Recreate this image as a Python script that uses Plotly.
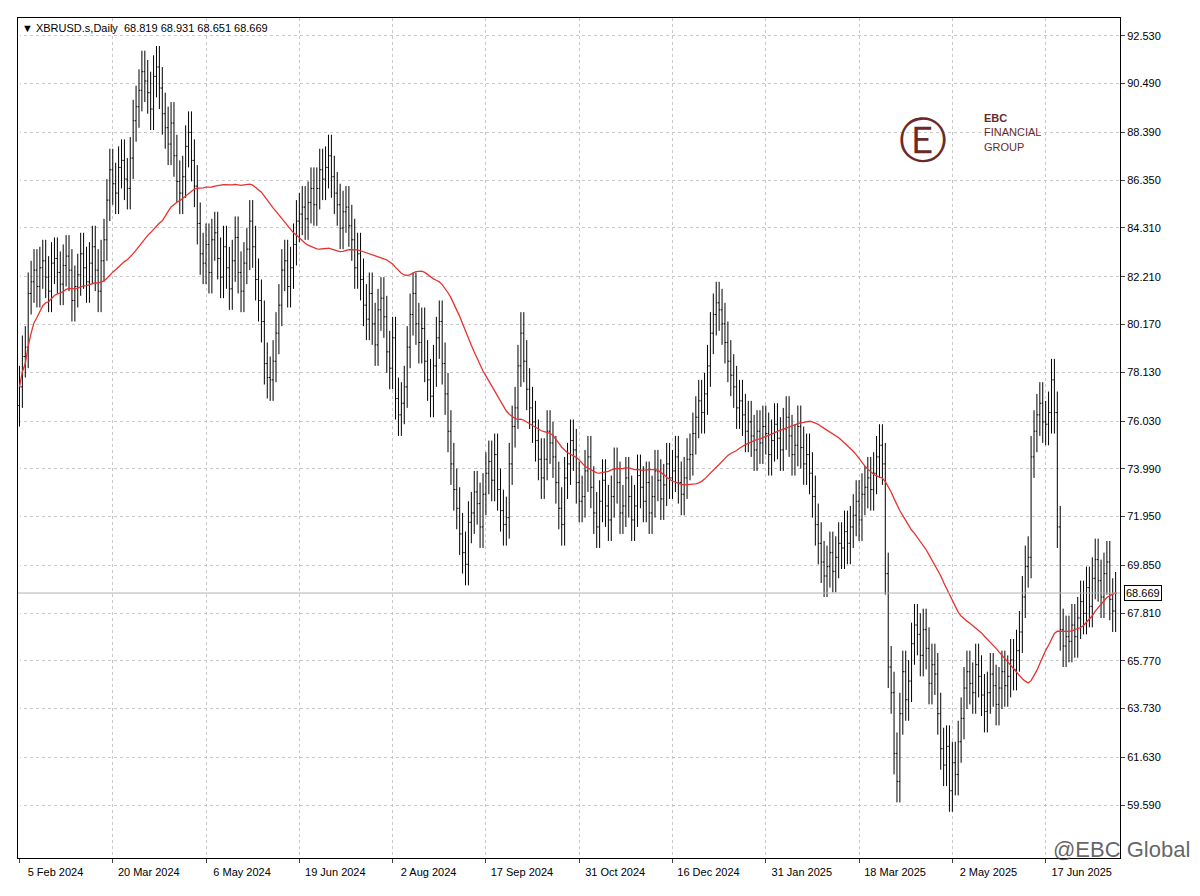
import plotly.graph_objects as go
import pandas as pd

closes = [
77.5,78.8,79.2,81.5,82.0,82.5,81.8,82.6,82.9,82.2,
81.6,82.8,83.0,82.4,81.9,82.7,83.1,82.5,81.2,81.8,
82.3,83.2,82.6,82.0,82.8,83.5,82.5,81.6,82.9,83.8,85.5,86.8,
86.2,85.8,86.9,87.2,86.4,86.0,87.3,88.9,89.5,90.2,91.0,90.6,90.1,89.4,90.8,91.2,
90.3,89.2,88.6,87.9,88.8,87.4,86.3,85.8,86.5,87.8,88.4,87.2,86.1,84.5,83.2,82.8,
83.6,82.4,83.8,84.1,83.0,82.2,83.5,82.6,81.7,82.9,83.9,82.4,81.6,82.8,83.4,84.6,
83.5,82.1,81.2,80.3,78.5,77.9,77.8,78.6,79.8,81.0,82.5,82.9,81.8,82.6,83.6,84.6,
84.9,85.2,84.7,85.4,86.0,85.3,86.0,86.8,86.4,86.9,87.4,86.5,85.8,85.3,84.3,85.0,
85.2,84.4,83.8,82.6,83.2,82.1,81.0,80.4,81.5,80.2,79.3,80.8,81.3,80.5,79.0,78.3,
79.6,77.0,76.3,76.8,77.5,79.2,80.6,81.5,80.2,79.4,80.0,78.6,77.8,77.1,78.4,79.6,
80.3,78.5,77.2,75.6,74.2,73.1,72.3,71.2,70.4,69.9,71.7,72.1,73.0,72.5,71.5,72.9,
73.8,74.3,73.5,74.6,73.1,72.2,71.6,71.9,74.2,75.8,76.6,78.4,79.8,78.6,77.4,76.6,
76.0,75.2,74.4,73.6,74.4,75.6,75.1,74.5,73.4,72.3,71.6,73.6,74.2,75.2,74.8,73.4,
72.6,72.8,73.9,74.5,73.2,72.1,71.5,72.6,73.5,72.4,71.8,72.8,74.0,73.4,72.1,72.4,
73.6,72.8,71.8,72.4,73.7,73.2,72.6,73.4,72.1,72.8,73.9,73.5,72.7,73.3,74.2,73.6,
73.9,74.5,73.4,72.9,73.6,74.4,74.6,75.5,76.2,76.9,76.4,77.2,78.4,79.8,80.6,81.1,
80.8,80.2,79.4,78.6,78.0,77.5,76.6,76.9,76.3,75.6,76.0,75.4,74.8,75.6,75.1,75.8,
75.5,74.6,75.2,75.9,75.3,74.8,75.7,76.2,75.4,74.6,75.0,75.8,74.9,74.2,74.6,73.8,
72.8,71.6,70.8,70.0,69.4,69.8,70.4,69.6,70.2,70.8,70.6,71.3,70.8,71.5,72.0,72.6,
71.8,72.9,73.2,73.6,73.1,73.8,74.5,75.0,74.2,69.5,65.5,64.4,61.8,60.6,63.5,65.3,
64.1,64.9,66.5,67.3,66.9,66.0,67.1,66.3,64.8,65.6,65.2,63.5,62.0,61.3,62.1,60.2,
61.4,60.9,62.3,63.3,64.6,65.3,64.8,64.4,65.6,65.1,64.3,63.6,64.4,65.2,64.7,63.9,
64.6,65.3,64.7,65.1,65.8,65.4,66.2,67.0,68.5,69.8,70.2,74.5,75.6,76.3,76.8,76.0,
75.9,76.4,77.8,76.4,71.5,67.1,66.4,66.8,66.6,67.3,66.8,67.6,68.3,67.8,68.9,68.1,
69.3,70.1,69.2,68.5,69.5,70.0,68.4,67.9,68.67,
]
tick_labels = ["5 Feb 2024","20 Mar 2024","6 May 2024","19 Jun 2024","2 Aug 2024",
               "17 Sep 2024","31 Oct 2024","16 Dec 2024","31 Jan 2025","18 Mar 2025",
               "2 May 2025","17 Jun 2025"]
y_ticks = [92.530,90.490,88.390,86.350,84.310,82.210,80.170,78.130,76.030,73.990,
           71.950,69.850,67.810,65.770,63.730,61.630,59.590]
last_price = 68.669

n = len(closes)
x = list(range(n))
opens = [closes[0]-0.8] + closes[:-1]
highs = [max(o, c)+0.9 for o, c in zip(opens, closes)]
lows = [min(o, c)-0.9 for o, c in zip(opens, closes)]
ma = pd.Series(closes).rolling(50, min_periods=1).mean()

fig = go.Figure()
fig.add_trace(go.Ohlc(x=x, open=opens, high=highs, low=lows, close=closes,
                      increasing_line_color="black", decreasing_line_color="black",
                      line_width=1, tickwidth=0.4, showlegend=False))
fig.add_trace(go.Scatter(x=x, y=ma, mode="lines", line=dict(color="#e8322f", width=1.3),
                         showlegend=False))
fig.add_hline(y=last_price, line_color="#b0b0b0", line_width=1)
fig.add_annotation(x=1, xref="paper", y=last_price, yref="y", text=f"{last_price:.3f}",
                   showarrow=False, xanchor="left", xshift=4, bgcolor="white",
                   bordercolor="black", borderwidth=1, font=dict(size=11, color="black", family="Arial"))
fig.add_annotation(x=0, xref="paper", y=1, yref="paper", xanchor="left", yanchor="top",
                   text="▼ XBRUSD.s,Daily  68.819 68.931 68.651 68.669", showarrow=False,
                   xshift=2, yshift=-2, font=dict(size=11, color="black", family="Arial"))
fig.add_annotation(x=0.875, xref="paper", y=0.89, yref="paper", text="<b>EBC</b><br>FINANCIAL<br>GROUP",
                   showarrow=False, xanchor="left", align="left",
                   font=dict(size=11, color="#6b2a2a", family="Arial"))
fig.add_annotation(x=0.845, xref="paper", y=0.89, yref="paper", text="Ⓔ", showarrow=False,
                   font=dict(size=48, color="#6b2a2a", family="DejaVu Sans"))
fig.add_annotation(x=1, xref="paper", y=0, yref="paper", text="@EBC Global",
                   showarrow=False, xanchor="right", yanchor="bottom", xshift=72, yshift=-6,
                   font=dict(size=22, color="rgba(60,60,60,0.8)", family="Arial"))
fig.update_layout(
    width=1200, height=896, margin=dict(l=10, r=88, t=10, b=46),
    paper_bgcolor="white", plot_bgcolor="white",
    xaxis=dict(range=[-0.5, n+0.5], tickvals=[i*32 for i in range(len(tick_labels))],
               ticktext=tick_labels, showgrid=True, gridcolor="#c8c8c8", griddash="3px,3px",
               rangeslider=dict(visible=False), showline=True, linecolor="black", mirror=True,
               ticks="outside", ticklen=4, ticklabelshift=36,
               tickfont=dict(size=11, family="Arial", color="black")),
    yaxis=dict(side="right", range=[57.32, 93.30], tickvals=y_ticks,
               ticktext=[f"{v:.3f}" for v in y_ticks], showgrid=True, gridcolor="#c8c8c8",
               griddash="3px,3px", showline=True, linecolor="black", mirror=True,
               ticks="outside", ticklen=4, tickfont=dict(size=11, family="Arial", color="black")),
)
fig.write_html("out.html")
